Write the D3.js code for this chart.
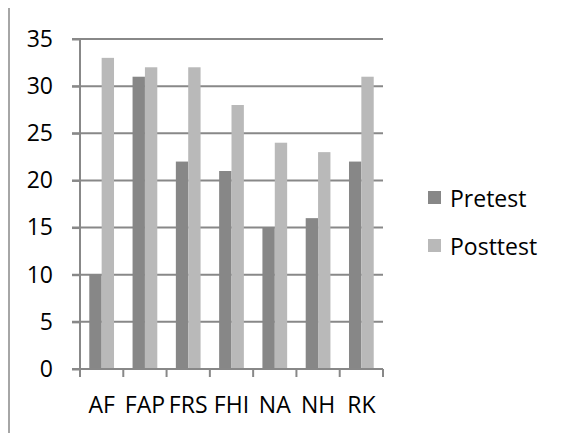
<!DOCTYPE html>
<html>
<head>
<meta charset="utf-8">
<script src="https://cdn.jsdelivr.net/npm/d3@7"></script>
<style>
html,body{margin:0;padding:0;background:#fff;}
svg{display:block;}
text{font-family:"Open Sans",Lato,sans-serif;fill:#000;}
</style>
</head>
<body>
<svg id="chart" width="561" height="433"></svg>
<script>
const categories = ["AF", "FAP", "FRS", "FHI", "NA", "NH", "RK"];
const seriesNames = ["Pretest", "Posttest"];
const pretest = [10, 31, 22, 21, 15, 16, 22];
const posttest = [33, 32, 32, 28, 24, 23, 31];
const yTicks = [0, 5, 10, 15, 20, 25, 30, 35];
const colors = ["#878787", "#b9b9b9"];

const svg = d3.select("#chart");
const gridColor = "#888888";
const fs = 23;

const x = d3.scaleBand().domain(categories).range([80, 383]).padding(0);
const x1 = d3.scaleBand().domain(seriesNames).range([0, x.bandwidth()]).paddingInner(0).paddingOuter(0.75);
const y = d3.scaleLinear().domain([0, 35]).range([369, 39]);

// left border line
svg.append("line").attr("x1", 9).attr("x2", 9).attr("y1", 8).attr("y2", 433)
  .attr("stroke", "#a6a6a6").attr("stroke-width", 2);

// gridlines
svg.append("g").selectAll("line").data(yTicks.filter(d => d > 0)).join("line")
  .attr("x1", 72).attr("x2", 383)
  .attr("y1", d => y(d)).attr("y2", d => y(d))
  .attr("stroke", gridColor).attr("stroke-width", 2);

// bars
const data = [pretest, posttest];
const g = svg.append("g");
categories.forEach((c, i) => {
  seriesNames.forEach((s, j) => {
    g.append("rect")
      .attr("x", x(c) + x1(s))
      .attr("width", x1.bandwidth())
      .attr("y", y(data[j][i]))
      .attr("height", y(0) - y(data[j][i]))
      .attr("fill", colors[j]);
  });
});

// y axis
const yAxis = d3.axisLeft(y).tickValues(yTicks).tickSize(8).tickPadding(19);
const ya = svg.append("g").attr("transform", "translate(80,0)").call(yAxis);
ya.selectAll("path,line").attr("stroke", gridColor).attr("stroke-width", 2);
ya.select(".domain").attr("d", `M-8,${y(35)}H0V${y(0)}`);
ya.selectAll("text").attr("font-size", fs).attr("font-family", "Open Sans").attr("fill", "#000");

// x axis
const xa = svg.append("g").attr("transform", `translate(0,${y(0)})`);
xa.append("line").attr("x1", 72).attr("x2", 383).attr("y1", 0).attr("y2", 0)
  .attr("stroke", gridColor).attr("stroke-width", 2);
const bounds = categories.map(c => x(c)).concat([x.range()[1]]);
xa.selectAll("line.t").data(bounds).join("line").attr("class", "t")
  .attr("x1", d => d).attr("x2", d => d).attr("y1", 0).attr("y2", 8)
  .attr("stroke", gridColor).attr("stroke-width", 2);
xa.selectAll("text").data(categories).join("text")
  .attr("x", d => x(d) + x.bandwidth() / 2).attr("y", 44)
  .attr("text-anchor", "middle").attr("font-size", fs).text(d => d);

// legend
const lg = svg.append("g");
seriesNames.forEach((s, j) => {
  lg.append("rect").attr("x", 428).attr("y", 191 + j * 48).attr("width", 13).attr("height", 13).attr("fill", colors[j]);
  lg.append("text").attr("x", 450).attr("y", 207 + j * 48).attr("font-size", fs).text(s);
});
</script>
</body>
</html>
